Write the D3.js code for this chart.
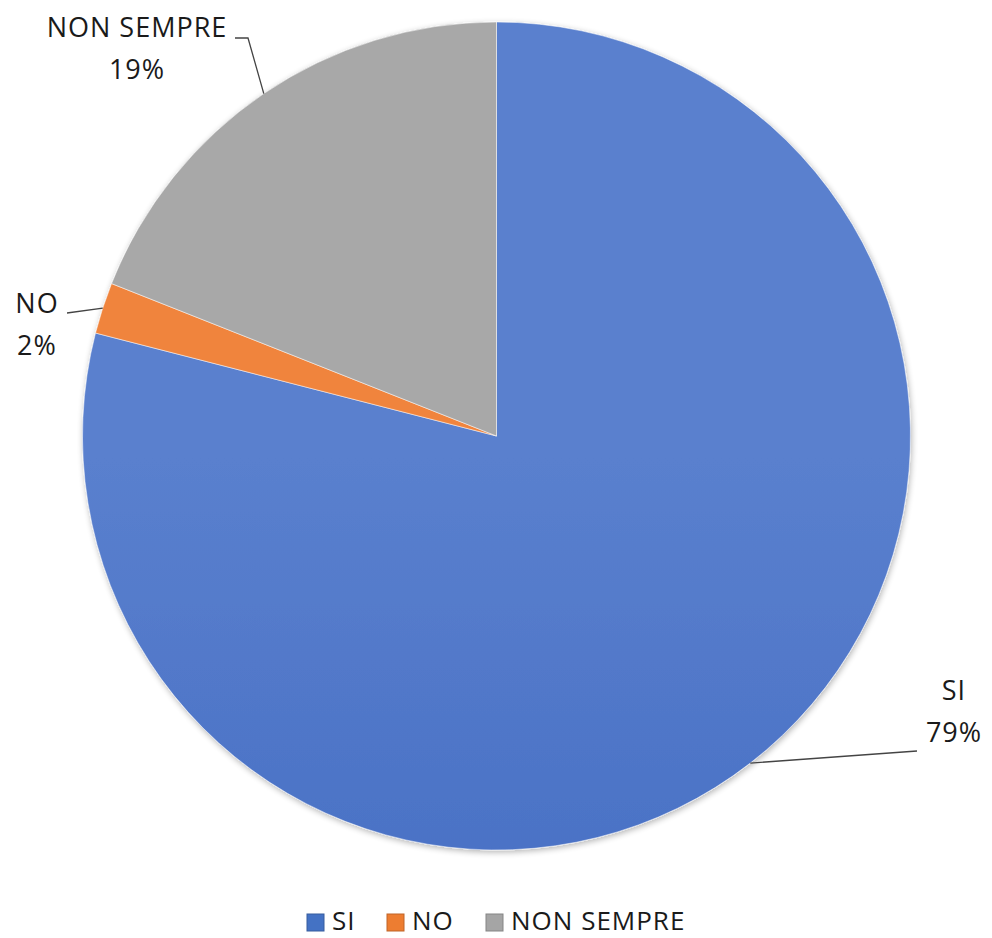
<!DOCTYPE html>
<html>
<head>
<meta charset="utf-8">
<script src="https://cdn.jsdelivr.net/npm/d3@7"></script>
<style>
  body { margin: 0; background: #fff; }
  text { font-family: "Open Sans", sans-serif; fill: #1a1a1a; }
</style>
</head>
<body>
<div id="chart"></div>
<script>
var categories = ["SI", "NO", "NON SEMPRE"];
var values = [79, 2, 19];
var colors = ["#4472C4", "#ED7D31", "#A5A5A5"];

// label layout (centre x, first baseline y) for each slice
var labelPos = [[954, 700], [37, 313], [137, 37]];

var width = 992, height = 938;
var cx = 496.5, cy = 436, radius = 414;

var svg = d3.select("#chart").append("svg")
  .attr("width", width)
  .attr("height", height);

var defs = svg.append("defs");

var shadow = defs.append("filter").attr("id", "shadow")
  .attr("x", "-10%").attr("y", "-10%").attr("width", "120%").attr("height", "120%");
shadow.append("feGaussianBlur").attr("in", "SourceAlpha").attr("stdDeviation", 3);
shadow.append("feOffset").attr("dx", 1).attr("dy", 2).attr("result", "b");
shadow.append("feComponentTransfer").append("feFuncA").attr("type", "linear").attr("slope", 0.3);
var merge = shadow.append("feMerge");
merge.append("feMergeNode");
merge.append("feMergeNode").attr("in", "SourceGraphic");

// soft gradients, lighter on top like the office default style
var gradTop = ["#5A80CE", "#F0843C", "#A8A8A8"];
var gradBottom = ["#3A63BD", "#E2732A", "#A2A2A2"];
colors.forEach(function(c, i) {
  var g = defs.append("linearGradient").attr("id", "grad" + i)
    .attr("gradientUnits", "userSpaceOnUse")
    .attr("x1", 0).attr("y1", cy - radius).attr("x2", 0).attr("y2", cy + radius);
  g.append("stop").attr("offset", "0%").attr("stop-color", gradTop[i]);
  g.append("stop").attr("offset", "100%").attr("stop-color", gradBottom[i]);
});

var pie = d3.pie().sort(null).value(function(d) { return d; });
var arcs = pie(values);

var arc = d3.arc().innerRadius(0).outerRadius(radius);

var g = svg.append("g").attr("transform", "translate(" + cx + "," + cy + ")");

g.append("g")
  .attr("filter", "url(#shadow)")
  .selectAll("path")
  .data(arcs)
  .enter().append("path")
  .attr("d", arc)
  .attr("fill", function(d, i) { return "url(#grad" + i + ")"; })
  .attr("stroke", "#fff")
  .attr("stroke-width", 0.5);

// leader lines from the slice mid angle on the rim to the label
function rim(d) {
  var a = (d.startAngle + d.endAngle) / 2;
  return [cx + radius * Math.sin(a), cy - radius * Math.cos(a)];
}
var lineEnds = [
  function(p) { return [[p[0], p[1]], [917, 751]]; },
  function(p) { return [[p[0], p[1]], [67, 313]]; },
  function(p) { return [[p[0], p[1]], [248, 38], [235, 38]]; }
];
svg.append("g").selectAll("path")
  .data(arcs)
  .enter().append("path")
  .attr("d", function(d, i) { return d3.line()(lineEnds[i](rim(d))); })
  .attr("fill", "none")
  .attr("stroke", "#444")
  .attr("stroke-width", 1.3);

var labels = svg.append("g").selectAll("text")
  .data(arcs)
  .enter().append("text")
  .attr("text-anchor", "middle")
  .style("font-size", "27px")
  .style("letter-spacing", "1px");
labels.append("tspan")
  .attr("x", function(d, i) { return labelPos[i][0]; })
  .attr("y", function(d, i) { return labelPos[i][1]; })
  .text(function(d, i) { return categories[i]; });
labels.append("tspan")
  .attr("x", function(d, i) { return labelPos[i][0]; })
  .attr("y", function(d, i) { return labelPos[i][1] + 42; })
  .text(function(d) { return d.data + "%"; });

// legend
var legendX = [307, 387, 486];
var legend = svg.append("g").selectAll("g")
  .data(categories)
  .enter().append("g")
  .attr("transform", function(d, i) { return "translate(" + legendX[i] + ",914)"; });
legend.append("rect")
  .attr("width", 17).attr("height", 17)
  .attr("fill", function(d, i) { return colors[i]; })
  .attr("stroke", function(d, i) { return d3.color(colors[i]).darker(0.6); })
  .attr("stroke-width", 1);
legend.append("text")
  .attr("x", 25).attr("y", 16)
  .style("font-size", "26px")
  .style("letter-spacing", "1px")
  .text(function(d) { return d; });
</script>
</body>
</html>
